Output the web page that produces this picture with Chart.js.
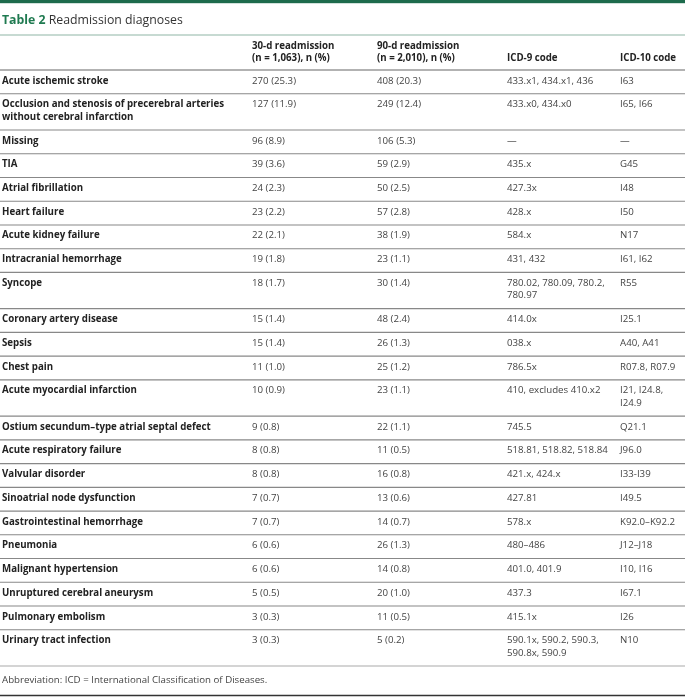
<!DOCTYPE html>
<html>
<head>
<meta charset="utf-8">
<script src="https://cdn.jsdelivr.net/npm/chart.js@4"></script>
<style>
  body { margin: 0; background: #fff; }
</style>
</head>
<body>
<canvas id="table-chart" width="685" height="697"></canvas>
<script>
// Table data
const diagnoses = [
  'Acute ischemic stroke',
  'Occlusion and stenosis of precerebral arteries\nwithout cerebral infarction',
  'Missing', 'TIA', 'Atrial fibrillation', 'Heart failure', 'Acute kidney failure',
  'Intracranial hemorrhage', 'Syncope', 'Coronary artery disease', 'Sepsis', 'Chest pain',
  'Acute myocardial infarction', 'Ostium secundum\u2013type atrial septal defect',
  'Acute respiratory failure', 'Valvular disorder', 'Sinoatrial node dysfunction',
  'Gastrointestinal hemorrhage', 'Pneumonia', 'Malignant hypertension',
  'Unruptured cerebral aneurysm', 'Pulmonary embolism', 'Urinary tract infection'
];
const n30 = [270, 127, 96, 39, 24, 23, 22, 19, 18, 15, 15, 11, 10, 9, 8, 8, 7, 7, 6, 6, 5, 3, 3];
const pct30 = [25.3, 11.9, 8.9, 3.6, 2.3, 2.2, 2.1, 1.8, 1.7, 1.4, 1.4, 1.0, 0.9, 0.8, 0.8, 0.8, 0.7, 0.7, 0.6, 0.6, 0.5, 0.3, 0.3];
const n90 = [408, 249, 106, 59, 50, 57, 38, 23, 30, 48, 26, 25, 23, 22, 11, 16, 13, 14, 26, 14, 20, 11, 5];
const pct90 = [20.3, 12.4, 5.3, 2.9, 2.5, 2.8, 1.9, 1.1, 1.4, 2.4, 1.3, 1.2, 1.1, 1.1, 0.5, 0.8, 0.6, 0.7, 1.3, 0.8, 1.0, 0.5, 0.2];
const icd9 = [
  '433.x1, 434.x1, 436', '433.x0, 434.x0', '\u2014', '435.x', '427.3x', '428.x', '584.x',
  '431, 432', '780.02, 780.09, 780.2,\n780.97', '414.0x', '038.x', '786.5x',
  '410, excludes 410.x2', '745.5', '518.81, 518.82, 518.84', '421.x, 424.x', '427.81',
  '578.x', '480\u2013486', '401.0, 401.9', '437.3', '415.1x', '590.1x, 590.2, 590.3,\n590.8x, 590.9'
];
const icd10 = [
  'I63', 'I65, I66', '\u2014', 'G45', 'I48', 'I50', 'N17', 'I61, I62', 'R55', 'I25.1',
  'A40, A41', 'R07.8, R07.9', 'I21, I24.8,\nI24.9', 'Q21.1', 'J96.0', 'I33-I39', 'I49.5',
  'K92.0\u2013K92.2', 'J12\u2013J18', 'I10, I16', 'I67.1', 'I26', 'N10'
];
const headers = [
  '',
  '30-d readmission\n(n = 1,063), n (%)',
  '90-d readmission\n(n = 2,010), n (%)',
  '\nICD-9 code',
  '\nICD-10 code'
];
const titleLabel = 'Table 2';
const titleText = 'Readmission diagnoses';
const footnote = 'Abbreviation: ICD = International Classification of Diseases.';

// layout
const colX = [2, 252, 377, 507, 620];
const FONT = '"Open Sans", "Noto Sans", sans-serif';
const SIZE = 9.7;
const lineH = 12.5;
const rowPad = 11.24;
const bodyTop = 70;

const fmt = (n, p) => n + ' (' + p.toFixed(1) + ')';

const tablePlugin = {
  id: 'tablePlugin',
  afterDraw(chart) {
    const ctx = chart.ctx;
    const xs = chart.scales.x;
    const ys = chart.scales.y;
    const X = v => xs.getPixelForValue(v);
    const Y = v => ys.getPixelForValue(v);

    const hline = (y, color, w) => {
      ctx.save();
      ctx.strokeStyle = color;
      ctx.lineWidth = w;
      ctx.beginPath();
      ctx.moveTo(X(0), Y(y));
      ctx.lineTo(X(685), Y(y));
      ctx.stroke();
      ctx.restore();
    };
    const text = (str, x, y, font, color) => {
      ctx.font = font;
      ctx.fillStyle = color;
      str.split('\n').forEach((s, i) => ctx.fillText(s, X(x), Y(y + i * lineH)));
    };

    ctx.save();
    ctx.textBaseline = 'middle';
    ctx.textAlign = 'left';

    // top bar and title
    ctx.fillStyle = '#1d6b4c';
    ctx.fillRect(X(0), Y(0), X(685) - X(0), Y(3.2) - Y(0));
    ctx.font = 'bold 12.3px ' + FONT;
    ctx.fillStyle = '#1f7a50';
    ctx.fillText(titleLabel, X(2), Y(20.5));
    const w = ctx.measureText(titleLabel + ' ').width;
    text(titleText, 2 + w, 20.5, '12.3px ' + FONT, '#333');
    hline(35, '#8fb5a6', 1.2);

    // header
    headers.forEach((h, i) => text(h, colX[i], 46, 'bold ' + SIZE + 'px ' + FONT, '#222'));
    hline(bodyTop, '#666', 1.2);

    // body rows
    let y = bodyTop;
    diagnoses.forEach((d, i) => {
      const cells = [d, fmt(n30[i], pct30[i]), fmt(n90[i], pct90[i]), icd9[i], icd10[i]];
      const lines = Math.max(...cells.map(c => c.split('\n').length));
      const cy = y + 10.8;
      text(cells[0], colX[0], cy, 'bold ' + SIZE + 'px ' + FONT, '#222');
      for (let c = 1; c < 5; c++) text(cells[c], colX[c], cy, SIZE + 'px ' + FONT, '#444');
      y += rowPad + lines * lineH;
      hline(y, i === diagnoses.length - 1 ? '#aaa' : '#888', 1.1);
    });

    // footnote
    text(footnote, 2, y + 14, SIZE + 'px ' + FONT, '#444');
    hline(695.5, '#333', 1.5);
    ctx.restore();
  }
};

new Chart(document.getElementById('table-chart'), {
  type: 'scatter',
  data: { datasets: [] },
  options: {
    responsive: false,
    animation: false,
    layout: { padding: 0 },
    scales: {
      x: { type: 'linear', min: 0, max: 685, display: false },
      y: { type: 'linear', min: 0, max: 697, reverse: true, display: false }
    },
    plugins: { legend: { display: false }, tooltip: { enabled: false } }
  },
  plugins: [tablePlugin]
});
</script>
</body>
</html>
